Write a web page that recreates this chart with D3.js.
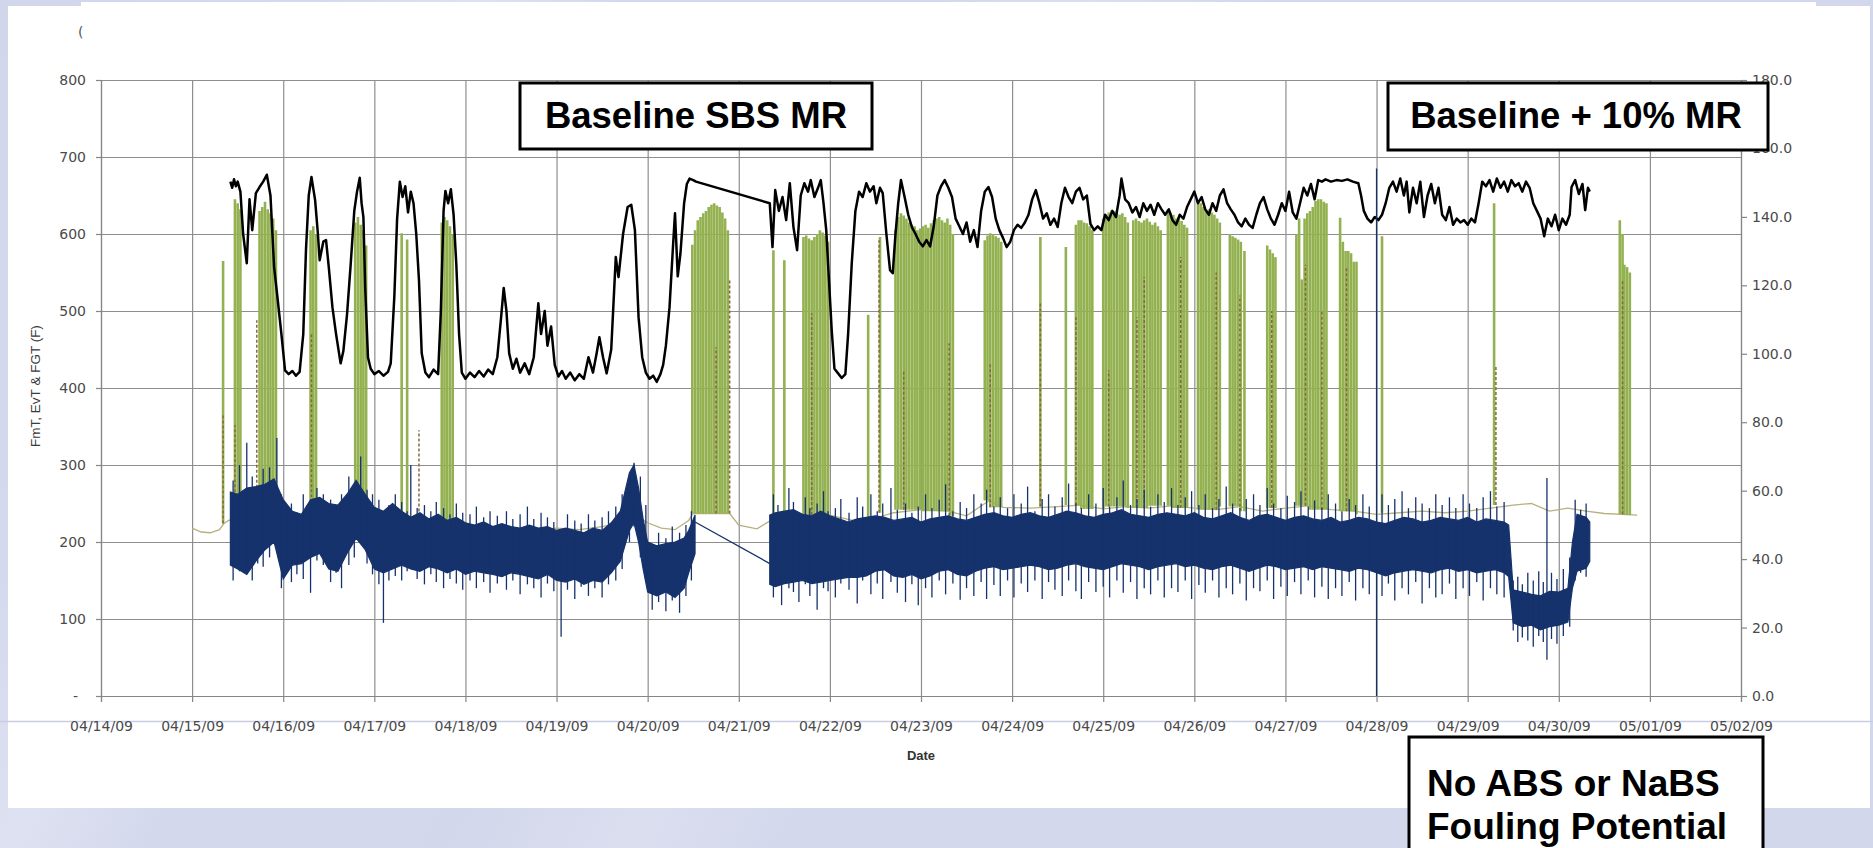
<!DOCTYPE html>
<meta charset="utf-8">
<style>
  body { margin: 0; background: #d4d8ec; }
  svg { display: block; }
</style>
<body>
<script src="https://d3js.org/d3.v7.min.js"></script>
<script>

////* Data (day = day of April 2009, May 1 = 31) *////
const leftTicks = [0, 100, 200, 300, 400, 500, 600, 700, 800];
const rightTicks = [0, 20, 40, 60, 80, 100, 120, 140, 160, 180];

// black trace [day, F]
const blackLine = [
  [15.42,668],[15.44,660],[15.46,671],[15.48,662],[15.50,668],[15.53,655],[15.56,600],[15.60,562],[15.63,645],[15.66,605],
  [15.70,653],[15.74,661],[15.78,668],[15.82,677],[15.86,650],[15.90,557],[15.94,514],[15.98,470],[16.02,423],[16.06,418],
  [16.10,422],[16.14,416],[16.18,421],[16.22,470],[16.25,580],[16.28,650],[16.31,674],[16.35,644],[16.38,601],[16.40,566],
  [16.44,590],[16.47,592],[16.50,557],[16.54,505],[16.58,470],[16.63,432],[16.66,448],[16.70,495],[16.74,560],[16.78,630],
  [16.81,655],[16.84,673],[16.86,640],[16.88,622],[16.90,530],[16.93,440],[16.96,425],[17.00,418],[17.05,422],[17.10,416],
  [17.15,421],[17.18,432],[17.22,520],[17.25,620],[17.28,668],[17.31,648],[17.34,662],[17.37,628],[17.40,655],[17.43,640],
  [17.46,600],[17.49,540],[17.52,445],[17.56,420],[17.60,414],[17.65,424],[17.70,418],[17.73,500],[17.76,630],[17.78,656],
  [17.81,640],[17.84,658],[17.87,625],[17.90,560],[17.93,470],[17.96,420],[18.00,412],[18.05,420],[18.10,414],[18.15,422],
  [18.20,415],[18.25,424],[18.30,418],[18.35,440],[18.39,490],[18.42,530],[18.45,500],[18.48,445],[18.52,425],[18.56,438],
  [18.60,420],[18.65,432],[18.70,418],[18.75,440],[18.80,510],[18.83,470],[18.87,500],[18.90,455],[18.94,480],[18.98,430],
  [19.02,415],[19.06,422],[19.10,412],[19.15,420],[19.20,410],[19.25,418],[19.30,412],[19.35,440],[19.40,420],[19.44,445],
  [19.47,466],[19.51,440],[19.55,419],[19.60,450],[19.65,570],[19.68,544],[19.73,600],[19.78,635],[19.82,638],[19.86,605],
  [19.90,492],[19.94,440],[19.98,420],[20.02,412],[20.06,416],[20.10,408],[20.14,418],[20.17,430],[20.20,455],[20.24,505],
  [20.28,588],[20.30,627],[20.33,545],[20.36,575],[20.40,640],[20.43,665],[20.46,672],[20.50,670],[20.53,668],
  [21.34,640],[21.37,583],[21.40,657],[21.44,630],[21.48,648],[21.52,618],[21.56,666],[21.60,609],[21.64,579],[21.68,650],
  [21.72,666],[21.76,655],[21.79,670],[21.83,648],[21.87,660],[21.90,670],[21.93,640],[21.96,605],[21.99,540],[22.02,475],
  [22.05,425],[22.09,419],[22.13,413],[22.17,418],[22.20,470],[22.24,562],[22.28,630],[22.32,655],[22.36,648],[22.40,666],
  [22.44,655],[22.48,662],[22.51,640],[22.55,660],[22.58,653],[22.62,600],[22.66,553],[22.69,549],[22.72,600],[22.75,640],
  [22.78,670],[22.82,648],[22.86,625],[22.90,609],[22.94,600],[22.98,590],[23.02,584],[23.06,592],[23.10,584],[23.14,610],
  [23.18,650],[23.22,662],[23.26,670],[23.30,660],[23.34,648],[23.38,620],[23.42,610],[23.46,600],[23.50,615],[23.54,590],
  [23.58,605],[23.62,583],[23.66,630],[23.70,655],[23.74,661],[23.78,648],[23.82,620],[23.86,605],[23.90,595],[23.94,583],
  [23.98,590],[24.02,605],[24.06,612],[24.10,608],[24.14,615],[24.18,625],[24.22,645],[24.26,657],[24.30,640],[24.34,620],
  [24.38,627],[24.42,612],[24.46,620],[24.50,609],[24.54,640],[24.58,660],[24.62,648],[24.66,640],[24.70,655],[24.74,660],
  [24.78,645],[24.82,650],[24.86,613],[24.90,605],[24.94,610],[24.98,605],[25.02,625],[25.06,618],[25.10,630],[25.14,622],
  [25.18,650],[25.20,672],[25.24,645],[25.28,640],[25.32,628],[25.36,635],[25.40,622],[25.44,640],[25.48,630],[25.52,638],
  [25.56,625],[25.60,640],[25.64,632],[25.68,625],[25.72,632],[25.76,618],[25.80,612],[25.84,625],[25.88,620],[25.92,635],
  [25.96,645],[26.00,655],[26.04,640],[26.08,648],[26.12,632],[26.16,625],[26.20,640],[26.24,630],[26.28,650],[26.32,658],
  [26.36,640],[26.40,632],[26.44,625],[26.48,615],[26.52,610],[26.56,620],[26.60,612],[26.64,608],[26.68,625],[26.72,640],
  [26.76,648],[26.80,632],[26.84,620],[26.88,612],[26.92,625],[26.96,640],[27.00,630],[27.04,655],[27.08,628],[27.12,620],
  [27.16,640],[27.20,660],[27.24,650],[27.28,665],[27.32,645],[27.36,670],[27.40,668],[27.44,671],[27.50,668],[27.56,670],
  [27.62,669],[27.68,671],[27.74,668],[27.80,666],[27.83,650],[27.86,630],[27.90,620],[27.94,615],[27.98,622],[28.02,618],
  [28.06,625],[28.10,640],[28.14,660],[28.18,668],[28.22,655],[28.26,672],[28.30,650],[28.33,668],[28.36,628],[28.40,660],
  [28.44,640],[28.48,668],[28.52,622],[28.56,650],[28.60,665],[28.64,640],[28.68,660],[28.72,625],[28.76,618],[28.80,635],
  [28.84,612],[28.88,620],[28.92,615],[28.96,618],[29.00,612],[29.04,620],[29.08,615],[29.12,640],[29.16,668],[29.20,662],
  [29.24,670],[29.28,655],[29.32,672],[29.36,660],[29.40,668],[29.44,655],[29.48,670],[29.52,662],[29.56,666],[29.60,655],
  [29.64,668],[29.68,660],[29.72,640],[29.76,630],[29.80,620],[29.84,597],[29.88,620],[29.92,610],[29.96,625],[30.00,605],
  [30.04,620],[30.08,612],[30.12,625],[30.14,661],[30.18,670],[30.22,652],[30.26,665],[30.29,631],[30.32,660],[30.34,655]
];

// thin tan base line [day, F]
const tanLine = [
  [15.00,218],[15.10,213],[15.20,212],[15.30,216],[15.35,224],[15.40,228],[15.60,232],[15.80,238],[16.00,235],[16.20,228],
  [16.40,232],[16.60,228],[16.80,236],[17.00,228],[17.20,222],[17.40,228],[17.60,220],[17.80,226],[18.00,220],[18.25,216],
  [18.50,218],[18.75,215],[19.00,218],[19.25,216],[19.50,220],[19.75,226],[19.90,232],[20.00,225],[20.15,218],[20.30,216],
  [20.45,228],[20.50,237],[20.90,237],[21.00,222],[21.20,217],[21.35,228],[21.50,236],[21.75,232],[22.00,235],[22.25,228],
  [22.50,231],[22.70,238],[23.00,242],[23.30,240],[23.50,234],[23.75,254],[23.90,245],[24.20,244],[24.50,246],[24.75,248],
  [25.00,243],[25.25,246],[25.50,244],[25.75,247],[26.00,244],[26.25,242],[26.50,246],[26.75,240],[27.00,244],[27.25,247],
  [27.50,242],[27.75,240],[28.00,236],[28.25,238],[28.50,240],[28.75,238],[29.00,240],[29.25,244],[29.50,248],[29.70,250],
  [29.90,240],[30.10,244],[30.30,240],[30.50,237],[30.70,236],[30.86,235]
];

// green spikes [day, top F]
const greenSpikes = [
  [15.34,565],[15.47,645],[15.50,640],[15.53,632],
  [15.74,630],[15.77,635],[15.80,642],[15.83,632],[15.86,627],[15.89,620],[15.92,605],
  [16.30,605],[16.33,610],[16.36,600],
  [16.79,615],[16.82,622],[16.85,612],[16.88,605],[16.91,585],
  [17.30,601],[17.36,593],
  [17.74,615],[17.77,622],[17.80,618],[17.83,610],[17.86,600],
  [20.49,586],[20.52,605],[20.55,618],[20.58,622],[20.61,627],[20.64,630],[20.67,635],[20.70,638],[20.73,640],[20.76,637],
  [20.79,635],[20.82,628],[20.85,620],[20.88,605],
  [21.38,579],[21.50,566],
  [21.71,596],[21.74,598],[21.77,594],[21.80,592],[21.83,596],[21.86,600],[21.89,605],[21.92,602],[21.95,598],[21.98,590],
  [22.42,495],[22.55,596],
  [22.72,605],[22.75,622],[22.78,627],[22.81,624],[22.84,620],[22.87,615],[22.90,612],[22.93,610],[22.96,605],[22.99,607],
  [23.02,610],[23.05,612],[23.08,608],[23.11,614],[23.14,618],[23.17,620],[23.20,622],[23.23,618],[23.26,615],[23.29,620],
  [23.32,612],[23.35,600],
  [23.70,592],[23.73,598],[23.76,601],[23.79,600],[23.82,597],[23.85,595],[23.88,590],
  [24.31,596],[24.59,583],
  [24.70,612],[24.73,618],[24.76,618],[24.79,615],[24.82,614],[24.85,610],[24.88,605],
  [25.00,620],[25.03,625],[25.06,628],[25.09,631],[25.12,630],[25.15,628],[25.18,625],[25.21,627],[25.24,622],[25.27,615],
  [25.33,618],[25.36,620],[25.39,617],[25.42,615],[25.45,618],[25.48,620],[25.51,616],[25.54,612],[25.57,615],[25.60,610],[25.63,605],
  [25.71,632],[25.74,628],[25.77,625],[25.80,620],[25.83,622],[25.86,617],[25.89,612],[25.92,608],
  [26.04,643],[26.07,640],[26.10,635],[26.13,630],[26.16,632],[26.19,628],[26.22,625],[26.25,620],[26.28,615],
  [26.39,600],[26.42,597],[26.45,595],[26.48,593],[26.51,590],[26.55,578],
  [26.80,585],[26.83,580],[26.86,575],[26.89,570],
  [27.12,600],[27.15,620],[27.18,541],[27.21,620],[27.24,627],[27.27,630],[27.30,635],[27.33,643],[27.36,645],[27.39,645],
  [27.42,642],[27.45,640],
  [27.60,621],[27.63,590],[27.66,578],[27.69,578],[27.72,575],[27.75,564],[27.78,564],
  [28.06,597],[29.29,640],
  [30.67,618],[30.70,600],[30.72,560],[30.75,557],[30.78,550]
];

// dashed brown spikes [day, top F]
const brownSpikes = [
  [15.34,367],[15.47,352],[15.71,488],[16.31,471],[17.49,345],[20.75,453],[20.90,540],[21.80,497],[22.54,592],[22.81,423],
  [23.31,458],[23.76,432],[24.31,510],[24.70,492],[25.06,423],[25.37,492],[25.45,544],[25.85,570],[26.24,550],[26.50,520],
  [26.85,500],[27.22,560],[27.40,500],[27.67,558],[29.31,430],[30.70,540]
];

// navy noisy band core [day, low F, high F], before and after the data gap
const blueBandA = [
  [15.42,170,265],[15.50,165,262],[15.60,158,270],[15.70,175,272],[15.80,190,275],[15.90,200,282],[16.00,152,255],
  [16.10,170,240],[16.20,172,236],[16.30,180,255],[16.40,185,258],[16.50,165,250],[16.60,162,248],[16.70,185,262],
  [16.80,205,280],[16.90,190,262],[17.00,165,245],[17.10,160,240],[17.20,165,250],[17.30,170,240],[17.40,165,232],
  [17.50,162,238],[17.60,168,230],[17.70,165,236],[17.80,160,228],[17.90,165,232],[18.00,158,225],[18.10,162,222],
  [18.20,160,226],[18.30,158,220],[18.40,155,224],[18.50,160,220],[18.60,158,218],[18.70,155,222],[18.80,152,218],
  [18.90,158,220],[19.00,150,215],[19.10,148,218],[19.20,152,215],[19.30,145,212],[19.40,150,218],[19.50,148,215],
  [19.60,160,225],[19.70,175,240],[19.80,215,290],[19.85,225,300],[19.90,200,270],[19.95,165,230],[20.00,135,200],
  [20.10,130,195],[20.20,135,198],[20.30,128,200],[20.40,140,205],[20.45,160,215],[20.52,185,235]
];
const blueBandB = [
  [21.34,145,235],[21.40,142,238],[21.50,146,240],[21.60,148,242],[21.70,150,236],[21.80,146,234],[21.90,148,240],
  [22.00,150,234],[22.10,152,230],[22.20,154,226],[22.30,154,230],[22.40,156,232],[22.50,162,234],[22.60,164,232],
  [22.70,156,228],[22.80,154,230],[22.90,158,232],[23.00,152,226],[23.10,156,230],[23.20,162,232],[23.30,164,234],
  [23.40,158,230],[23.50,156,228],[23.60,162,232],[23.70,166,236],[23.80,168,238],[23.90,164,234],[24.00,166,232],
  [24.10,168,236],[24.20,170,238],[24.30,168,234],[24.40,164,232],[24.50,166,236],[24.60,170,240],[24.70,172,238],
  [24.80,168,234],[24.90,166,232],[25.00,164,236],[25.10,168,238],[25.20,172,242],[25.30,170,236],[25.40,168,234],
  [25.50,164,232],[25.60,168,236],[25.70,170,238],[25.80,172,236],[25.90,168,234],[26.00,170,238],[26.10,166,232],
  [26.20,164,230],[26.30,168,234],[26.40,170,238],[26.50,166,232],[26.60,162,228],[26.70,166,234],[26.80,170,236],
  [26.90,168,232],[27.00,164,228],[27.10,166,232],[27.20,168,234],[27.30,164,230],[27.40,168,228],[27.50,166,232],
  [27.60,164,226],[27.70,162,228],[27.80,166,232],[27.90,164,230],[28.00,160,226],[28.10,156,224],[28.20,160,228],
  [28.30,162,232],[28.40,164,230],[28.50,162,226],[28.60,160,228],[28.70,164,232],[28.80,166,230],[28.90,162,228],
  [29.00,164,232],[29.10,160,226],[29.20,162,230],[29.30,164,228],[29.40,160,226],[29.45,155,222],[29.50,95,138],
  [29.60,90,135],[29.70,92,132],[29.80,86,130],[29.90,90,136],[30.00,92,135],[30.10,96,140],[30.15,140,200],
  [30.20,162,236],[30.30,166,232],[30.34,175,226]
];
// straight join drawn across the gap
const blueBridge = [[20.52,226],[21.34,172]];
// navy noise spikes around the band [day, low F, high F]
const blueSpikes = [
  [15.45,150,280],[15.52,162,300],[15.60,160,329],[15.66,150,285],[15.72,172,268],[15.78,168,295],[15.85,180,297],
  [15.93,200,335],[15.98,140,262],[16.04,160,246],[16.09,148,250],[16.15,158,238],[16.22,152,262],[16.30,134,240],
  [16.37,176,270],[16.44,170,262],[16.52,148,255],[16.58,160,245],[16.64,140,262],[16.72,170,285],[16.78,180,272],
  [16.85,200,311],[16.92,172,268],[16.98,158,262],[17.05,145,255],[17.10,95,220],[17.16,150,248],[17.23,156,262],
  [17.30,150,252],[17.36,162,240],[17.40,170,300],[17.47,152,244],[17.55,145,248],[17.62,158,240],[17.68,148,252],
  [17.76,140,244],[17.83,152,236],[17.90,146,250],[17.97,138,238],[18.05,150,236],[18.12,140,246],[18.20,148,232],
  [18.27,134,240],[18.35,146,234],[18.45,138,240],[18.52,150,230],[18.60,132,236],[18.68,145,246],[18.75,140,230],
  [18.83,128,238],[18.90,146,232],[18.97,136,226],[19.05,77,200],[19.12,138,236],[19.20,126,228],[19.27,142,224],
  [19.35,130,236],[19.42,140,228],[19.50,128,232],[19.57,145,240],[19.65,150,246],[19.72,165,262],[19.80,200,285],
  [19.85,220,303],[19.92,180,285],[19.98,150,248],[20.05,112,180],[20.12,122,212],[20.20,110,205],[20.27,124,220],
  [20.35,108,212],[20.42,130,222],[20.48,150,240],
  [21.38,128,262],[21.43,150,248],[21.47,118,240],[21.55,140,270],[21.60,135,252],[21.66,122,236],[21.73,145,258],
  [21.78,130,244],[21.86,112,250],[21.93,140,266],[21.98,136,240],[22.06,128,244],[22.12,146,256],[22.21,138,238],
  [22.30,120,258],[22.36,150,246],[22.45,132,262],[22.52,146,240],[22.58,126,250],[22.67,148,270],[22.74,134,242],
  [22.83,122,250],[22.90,145,238],[22.97,118,246],[23.05,140,262],[23.12,128,244],[23.20,150,255],[23.27,132,275],
  [23.35,146,240],[23.43,125,252],[23.50,140,244],[23.58,130,262],[23.66,148,250],[23.72,126,268],[23.80,144,246],
  [23.87,130,258],[23.95,150,244],[24.02,128,262],[24.10,146,250],[24.17,135,272],[24.25,150,240],[24.33,126,256],
  [24.40,148,262],[24.47,138,246],[24.55,130,258],[24.62,150,276],[24.70,136,250],[24.76,126,244],[24.84,148,262],
  [24.92,135,250],[25.00,142,270],[25.07,128,246],[25.15,150,258],[25.22,134,280],[25.30,148,248],[25.37,126,256],
  [25.45,140,268],[25.52,132,246],[25.60,150,262],[25.67,128,252],[25.75,140,270],[25.82,135,248],[25.90,150,258],
  [25.97,126,266],[26.05,144,248],[26.12,134,262],[26.20,150,244],[26.27,128,256],[26.35,140,272],[26.42,132,250],
  [26.50,146,244],[26.57,124,256],[26.65,140,262],[26.72,136,248],[26.80,150,270],[26.87,126,250],[26.95,142,244],
  [27.02,130,260],[27.10,148,252],[27.17,132,266],[27.25,150,246],[27.32,128,254],[27.40,142,244],[27.47,126,262],
  [27.55,140,250],[27.62,130,240],[27.70,148,256],[27.77,124,248],[27.85,140,262],[27.92,132,246],[28.00,0,685],
  [28.06,130,262],[28.13,146,248],[28.20,124,256],[28.28,140,266],[28.35,132,244],[28.43,148,258],[28.50,120,250],
  [28.58,140,244],[28.65,128,262],[28.72,132,248],[28.80,146,258],[28.87,126,244],[28.95,140,262],[29.02,130,250],
  [29.10,148,244],[29.17,124,258],[29.25,140,266],[29.32,132,246],[29.40,128,252],
  [29.50,85,150],[29.55,70,155],[29.60,76,145],[29.66,72,160],[29.72,64,150],[29.78,78,162],[29.83,70,148],
  [29.87,47,283],[29.92,74,160],[29.98,68,152],[30.05,78,165],[30.12,90,180],[30.18,150,255],[30.24,160,242],
  [30.30,155,250]
];

////* Set-up *////
const W = 1873, H = 848;
const plot = { left: 101, right: 1741, top: 80, bottom: 696 };
const dayMs = 864e5;
const april1 = new Date(2009, 3, 1).getTime();
function toDate(day) { return new Date(april1 + (day - 1) * dayMs); }

const x = d3.scaleTime()
  .domain([new Date(2009, 3, 14), new Date(2009, 4, 2)])
  .range([plot.left, plot.right]);
const yL = d3.scaleLinear().domain([0, 800]).range([plot.bottom, plot.top]);
const yR = d3.scaleLinear().domain([0, 180]).range([plot.bottom, plot.top]);

const baseIdx = d3.bisector(d => d[0]).left;
function baseAt(day) {
  const i = Math.min(baseIdx(tanLine, day), tanLine.length - 1);
  return tanLine[i][1];
}

const svg = d3.select("body").append("svg").attr("width", W).attr("height", H);
const defs = svg.append("defs");

// slide background with soft streaks
const bg = defs.append("linearGradient").attr("id", "bg")
  .attr("x1", "0").attr("y1", "0").attr("x2", "1").attr("y2", "0.25");
[[0, "#d2d6ea"], [0.16, "#d5d9ed"], [0.24, "#dee1f1"], [0.31, "#d4d8ec"], [0.46, "#d3d7eb"],
 [0.55, "#dbdeef"], [0.63, "#d4d8ec"], [1, "#d3d7eb"]].forEach(s => {
  bg.append("stop").attr("offset", s[0]).attr("stop-color", s[1]);
});
svg.append("rect").attr("width", W).attr("height", H).attr("fill", "url(#bg)");

// pasted white chart panels
svg.append("rect").attr("x", 8).attr("y", 6).attr("width", 1862).attr("height", 802).attr("fill", "#fff");
svg.append("rect").attr("x", 81).attr("y", 2).attr("width", 1735).attr("height", 6).attr("fill", "#fff");
svg.append("line").attr("x1", 0).attr("x2", W).attr("y1", 721.5).attr("y2", 721.5)
  .attr("stroke", "#c9cde4").attr("stroke-width", 1.5);

svg.append("text").attr("x", 78).attr("y", 37)
  .style("font-family", "DejaVu Sans").style("font-size", "14px").attr("fill", "#555").text("(");

////* Grid *////
const gridColor = "#8e8e8e";
svg.append("g")
  .attr("transform", `translate(${plot.left},0)`)
  .call(d3.axisLeft(yL).tickValues(leftTicks.slice(1)).tickSize(-(plot.right - plot.left)).tickFormat(""))
  .call(g => g.select(".domain").remove())
  .call(g => g.selectAll("line").attr("stroke", gridColor).attr("stroke-width", 1.2));

svg.append("g")
  .attr("transform", `translate(0,${plot.bottom})`)
  .call(d3.axisBottom(x).ticks(d3.timeDay.every(1)).tickSize(-(plot.bottom - plot.top)).tickFormat(""))
  .call(g => g.select(".domain").remove())
  .call(g => g.selectAll("line").attr("stroke", gridColor).attr("stroke-width", 1.2));

////* Series *////
const px = d => x(toDate(d[0]));

svg.append("path").datum(tanLine)
  .attr("fill", "none").attr("stroke", "#b7b07f").attr("stroke-width", 1.3)
  .attr("d", d3.line().x(px).y(d => yL(d[1])));

svg.append("g").selectAll("line").data(greenSpikes).join("line")
  .attr("x1", px).attr("x2", px)
  .attr("y1", d => yL(baseAt(d[0]))).attr("y2", d => yL(d[1]))
  .attr("stroke", "#93b150").attr("stroke-width", 2.6);

svg.append("g").selectAll("line").data(brownSpikes).join("line")
  .attr("x1", px).attr("x2", px)
  .attr("y1", d => yL(baseAt(d[0]))).attr("y2", d => yL(d[1]))
  .attr("stroke", "#86683f").attr("stroke-width", 1.5).attr("stroke-dasharray", "3,2");

svg.append("path").datum(blackLine)
  .attr("fill", "none").attr("stroke", "#000").attr("stroke-width", 2.5).attr("stroke-linejoin", "round")
  .attr("d", d3.line().x(px).y(d => yL(d[1])));

const navy = "#16326c";
const band = d3.area().x(px).y0(d => yL(d[1])).y1(d => yL(d[2]));
[blueBandA, blueBandB].forEach(b => {
  svg.append("path").datum(b)
    .attr("fill", navy).attr("stroke", navy).attr("stroke-width", 1.2).attr("d", band);
});
svg.append("path").datum(blueBridge)
  .attr("fill", "none").attr("stroke", navy).attr("stroke-width", 1.3)
  .attr("d", d3.line().x(px).y(d => yL(d[1])));
svg.append("g").selectAll("line").data(blueSpikes).join("line")
  .attr("x1", px).attr("x2", px)
  .attr("y1", d => yL(d[1])).attr("y2", d => yL(d[2]))
  .attr("stroke", navy).attr("stroke-width", 1.3);

////* Axes *////
const axisColor = "#868686";
const labelFont = g => g.selectAll("text")
  .style("font-family", "DejaVu Sans, Verdana, sans-serif").style("font-size", "14px").attr("fill", "#4a4a4a");

svg.append("g")
  .attr("transform", `translate(0,${plot.bottom})`)
  .call(d3.axisBottom(x).ticks(d3.timeDay.every(1)).tickFormat(d3.timeFormat("%m/%d/%y")).tickSize(6).tickPadding(19))
  .call(g => g.selectAll("line,path").attr("stroke", axisColor).attr("stroke-width", 1.2))
  .call(labelFont);

svg.append("g")
  .attr("transform", `translate(${plot.left},0)`)
  .call(d3.axisLeft(yL).tickValues(leftTicks).tickFormat(d => d === 0 ? "-" : d).tickSize(5).tickPadding(10))
  .call(g => g.selectAll("line,path").attr("stroke", axisColor).attr("stroke-width", 1.2))
  .call(labelFont)
  .call(g => g.selectAll(".tick text").filter(d => d === 0).attr("x", -23));

svg.append("g")
  .attr("transform", `translate(${plot.right},0)`)
  .call(d3.axisRight(yR).tickValues(rightTicks).tickFormat(d3.format(".1f")).tickSize(6).tickPadding(5))
  .call(g => g.selectAll("line,path").attr("stroke", axisColor).attr("stroke-width", 1.2))
  .call(labelFont);

svg.append("text")
  .attr("transform", "translate(35,386) rotate(-90)")
  .attr("text-anchor", "middle").attr("dy", "0.35em")
  .style("font-family", "Liberation Sans, Arial, sans-serif").style("font-size", "13.5px")
  .attr("fill", "#3a3a3a").text("FmT, EvT & FGT (F)");

svg.append("text")
  .attr("x", (plot.left + plot.right) / 2).attr("y", 760)
  .attr("text-anchor", "middle")
  .style("font-family", "Liberation Sans, Arial, sans-serif").style("font-size", "13px").style("font-weight", "bold")
  .attr("fill", "#333").text("Date");

////* Call-out boxes *////
function callout(bx, by, bw, bh, lines, opts) {
  svg.append("rect").attr("x", bx).attr("y", by).attr("width", bw).attr("height", bh)
    .attr("fill", "#fff").attr("stroke", "#000").attr("stroke-width", 3);
  lines.forEach((t, i) => {
    svg.append("text")
      .attr("x", opts.x).attr("y", opts.y + i * opts.lh)
      .attr("text-anchor", opts.anchor)
      .style("font-family", "Liberation Sans, Arial, sans-serif")
      .style("font-size", opts.size + "px").style("font-weight", "bold")
      .attr("fill", "#000").text(t);
  });
}
callout(520, 83, 352, 66, ["Baseline SBS MR"], { x: 696, y: 128, lh: 0, anchor: "middle", size: 36.5 });
callout(1388, 83, 380, 67, ["Baseline + 10% MR"], { x: 1576, y: 128, lh: 0, anchor: "middle", size: 36.5 });
callout(1409, 737, 354, 150, ["No ABS or NaBS", "Fouling Potential"], { x: 1427, y: 796, lh: 43, anchor: "start", size: 37 });

</script>
</body>
</html>
